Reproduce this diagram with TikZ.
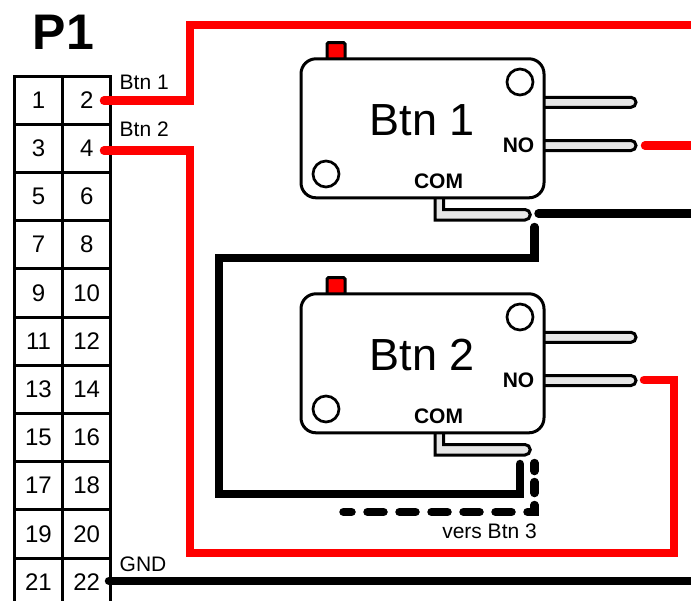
\documentclass[tikz,border=0pt]{standalone}
\usepackage{fontspec}
\setmainfont{Liberation Sans}
\newcommand{\fsz}[1]{\fontsize{#1}{#1}\selectfont}
\definecolor{pingray}{HTML}{E6E6E6}
\tikzset{
  x=1pt,y=-1pt,
  cell/.style={draw=black,line width=3pt,minimum width=48.2pt,minimum height=48.2pt,inner sep=0pt,font=\fsz{24}},
  body/.style={draw=black,line width=3pt,rounded corners=15pt,fill=white,minimum width=243pt,minimum height=139pt,inner sep=0pt},
  hole/.style={draw=black,line width=2.7pt,circle,fill=white,minimum size=26pt,inner sep=0pt},
  pinfill/.style={draw=black,line width=3pt,fill=pingray},
  plunger/.style={draw=black,line width=3pt,fill=red,rounded corners=1.5pt},
  redwire/.style={draw=red,line width=8.5pt,line cap=round,miter limit=10},
  blackwire/.style={draw=black,line width=8.5pt,line cap=round},
  lab/.style={inner sep=0pt,font=\fsz{21}},
  blab/.style={inner sep=0pt,font=\bfseries\fsz{21}},
}
\newcommand{\microswitch}[3]{% prefix, dy, text
  \begin{scope}[yshift=-#2pt]
    \draw[plunger] (327,60) -- (327,42.5) -- (345,42.5) -- (345,60) -- cycle;
    \draw[pinfill] (544,97.3) -- (631,97.3) arc[start angle=-90,end angle=90,radius=5] -- (544,107.3);
    \draw[pinfill] (544,140.5) -- (631,140.5) arc[start angle=-90,end angle=90,radius=5] -- (544,150.5);
    \draw[pinfill] (443.5,199) -- (443.5,209.5) -- (525,209.5) arc[start angle=-90,end angle=90,radius=5.25] -- (435,220) -- (435,199);
    \node[body] (#1body) at (422.5,128.3) {};
    \node[hole] (#1a) at (520,82) {};
    \node[hole] (#1b) at (326,174) {};
    \node[inner sep=0pt,font=\fsz{45}] (#1title) at (422.5,120) {#3};
    \node[blab] (#1no) at (518.5,145.5) {NO};
    \node[blab] (#1com) at (438.5,181) {COM};
  \end{scope}
}
\begin{document}
\begin{tikzpicture}
\useasboundingbox (0,0) rectangle (691,600);
\clip (0,0) rectangle (691,600);
\fill[white] (0,0) rectangle (691,600);
\node[inner sep=0pt,font=\bfseries\fsz{50}] (title) at (63.5,32) {P1};
\foreach \r in {0,...,10}{
  \pgfmathtruncatemacro{\a}{2*\r+1}
  \pgfmathtruncatemacro{\b}{2*\r+2}
  \pgfmathsetmacro{\yy}{100.1+48.2*\r}
  \node[cell] (p\a) at (38.5,\yy) {\a};
  \node[cell] (p\b) at (86.7,\yy) {\b};
}
\node[lab,anchor=base west] (lbtna) at (119.5,89) {Btn 1};
\node[lab,anchor=base west] (lbtnb) at (119.5,136) {Btn 2};
\node[lab,anchor=base west] (lgnd) at (119.5,571) {GND};
\microswitch{s1}{0}{Btn 1}
\microswitch{s2}{235}{Btn 2}
\coordinate (w2) at (104,100.7);
\coordinate (w4) at (104,150.5);
\coordinate (w22) at (109,581);
\coordinate (ra) at (691,25);
\coordinate (rb) at (691,145.5);
\coordinate (rs) at (645,145.5);
\coordinate (r2) at (644,380);
\coordinate (ba) at (538.5,213.5);
\coordinate (bb) at (691,213.5);
\coordinate (bc) at (534.5,227);
\coordinate (bd) at (520,464);
\coordinate (da) at (534.5,463);
\coordinate (db) at (342,512);
\coordinate (ge) at (691,581);
\draw[redwire] (w2) -- (190,100.7) -- (190,25) -- (ra);
\draw[redwire] (w4) -- (190,150.5) -- (190,553) -- (674,553) -- (674,380) -- (r2);
\draw[redwire] (rs) -- (rb);
\draw[blackwire] (ba) -- (bb);
\draw[blackwire] (bc) -- (534.5,258) -- (219,258) -- (219,494) -- (520,494) -- (bd);
\draw[blackwire] (w22) -- (ge);
\draw[blackwire,dash pattern=on 8pt off 11pt on 11pt off 12pt on 14pt off 16pt on 16pt off 16pt on 16pt off 16pt on 16pt off 16pt on 16pt off 16pt on 16pt off 16pt] (da) -- (534.5,512) -- (db);
\node[lab,anchor=base east] (vers) at (537,538) {vers Btn 3};
\end{tikzpicture}
\end{document}
